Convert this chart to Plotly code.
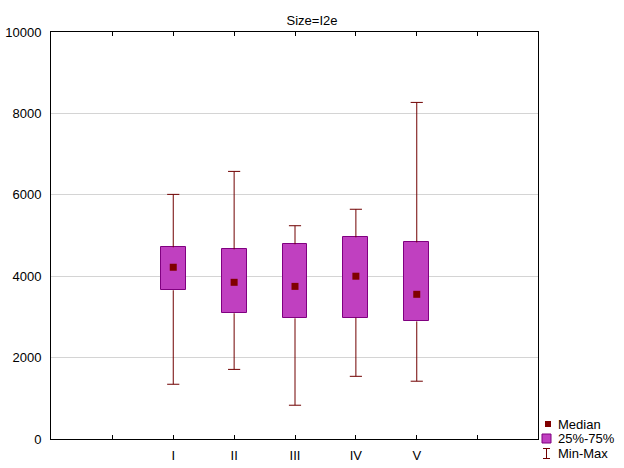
import plotly.graph_objects as go

categories = ["I", "II", "III", "IV", "V"]
q1 = [3655, 3090, 2965, 2980, 2890]
q3 = [4710, 4660, 4785, 4955, 4830]
median = [4220, 3850, 3750, 4000, 3555]
vmin = [1345, 1710, 830, 1540, 1420]
vmax = [6010, 6575, 5240, 5645, 8270]

y_ticks = [0, 2000, 4000, 6000, 8000, 10000]

W, H = 624, 468
ML, MR, MT, MB = 51, 86, 32, 29
PW, PH = W - ML - MR, H - MT - MB

xpos = list(range(1, len(categories) + 1))
box_w = 0.41
cap_half = 0.1
whisker_col = "#700000"
box_fill = "#c040c0"
box_line = "#800080"
med_col = "#800000"

# half-pixel shift so vertical 1px lines render crisply
unit_px = PW / 8.0
shift = 0.5 / unit_px

fig = go.Figure()

# whiskers
wx, wy = [], []
for x, lo, hi, a, b in zip(xpos, vmin, vmax, q1, q3):
    wx += [x, x, None, x, x, None, x - cap_half, x + cap_half, None, x - cap_half, x + cap_half, None]
    wy += [b, hi, None, a, lo, None, hi, hi, None, lo, lo, None]
fig.add_trace(go.Scatter(x=wx, y=wy, mode="lines", line=dict(color=whisker_col, width=1),
                         showlegend=False, hoverinfo="skip"))

# boxes
fig.add_trace(go.Bar(x=xpos, y=[b - a for a, b in zip(q1, q3)], base=q1, width=box_w,
                     marker=dict(color=box_fill, line=dict(color=box_line, width=1)),
                     showlegend=False))

# medians
fig.add_trace(go.Scatter(x=xpos, y=median, mode="markers",
                         marker=dict(symbol="square", size=7, color=med_col, line=dict(width=0)),
                         showlegend=False))

def px_x(p):
    return (p - ML) / PW

def px_y(p):
    return (H - MB - p) / PH

shapes = []
# legend: median square
shapes.append(dict(type="rect", xref="paper", yref="paper",
                   x0=px_x(545), x1=px_x(551), y0=px_y(427), y1=px_y(421),
                   fillcolor=med_col, line=dict(width=0)))
# legend: box
shapes.append(dict(type="rect", xref="paper", yref="paper",
                   x0=px_x(542), x1=px_x(551), y0=px_y(443), y1=px_y(434),
                   fillcolor=box_fill, line=dict(color=box_line, width=1)))
# legend: whisker
for seg in [(546.5, 448.5, 546.5, 458.5), (543, 448.5, 550, 448.5), (543, 458.5, 550, 458.5)]:
    shapes.append(dict(type="line", xref="paper", yref="paper",
                       x0=px_x(seg[0]), y0=px_y(seg[1]), x1=px_x(seg[2]), y1=px_y(seg[3]),
                       line=dict(color=whisker_col, width=1)))

annotations = []
for label, py in [("Median", 424), ("25%-75%", 438.5), ("Min-Max", 453)]:
    annotations.append(dict(text=label, xref="paper", yref="paper", x=px_x(556), y=px_y(py),
                            xanchor="left", yanchor="middle", showarrow=False,
                            font=dict(size=13, color="#000000")))

font_family = "Arial, Liberation Sans, sans-serif"

fig.update_layout(
    width=W, height=H,
    margin=dict(l=ML, r=MR, t=MT, b=MB, autoexpand=False),
    paper_bgcolor="white", plot_bgcolor="white",
    font=dict(family=font_family, size=13, color="#000000"),
    title=dict(text="Size=I2e", x=0.5, xanchor="center", y=1 - 20 / H, yanchor="middle",
               font=dict(size=13, family=font_family)),
    showlegend=False,
    shapes=shapes,
    annotations=annotations,
    bargap=0,
)
fig.update_xaxes(range=[-1 - shift, 7 - shift], tickmode="array", tickvals=list(range(0, 7)),
                 ticktext=[""] + categories + [""],
                 ticks="inside", ticklen=4, tickcolor="#000000", tickwidth=1,
                 showline=True, linecolor="#000000", linewidth=1, mirror="ticks",
                 showgrid=False, zeroline=False, fixedrange=True, automargin=False,
                 ticklabelstandoff=4)
fig.update_yaxes(range=[0, 10000], tickmode="array", tickvals=y_ticks,
                 ticktext=[str(v) for v in y_ticks],
                 ticks="", showline=True, linecolor="#000000", linewidth=1, mirror=True,
                 showgrid=True, gridcolor="#d4d4d4", gridwidth=1, zeroline=False,
                 ticklabelstandoff=6, fixedrange=True, automargin=False)

fig.write_html("out.html", config={"displayModeBar": False},
               post_script="document.body.style.margin='0';document.body.style.overflow='hidden';")
